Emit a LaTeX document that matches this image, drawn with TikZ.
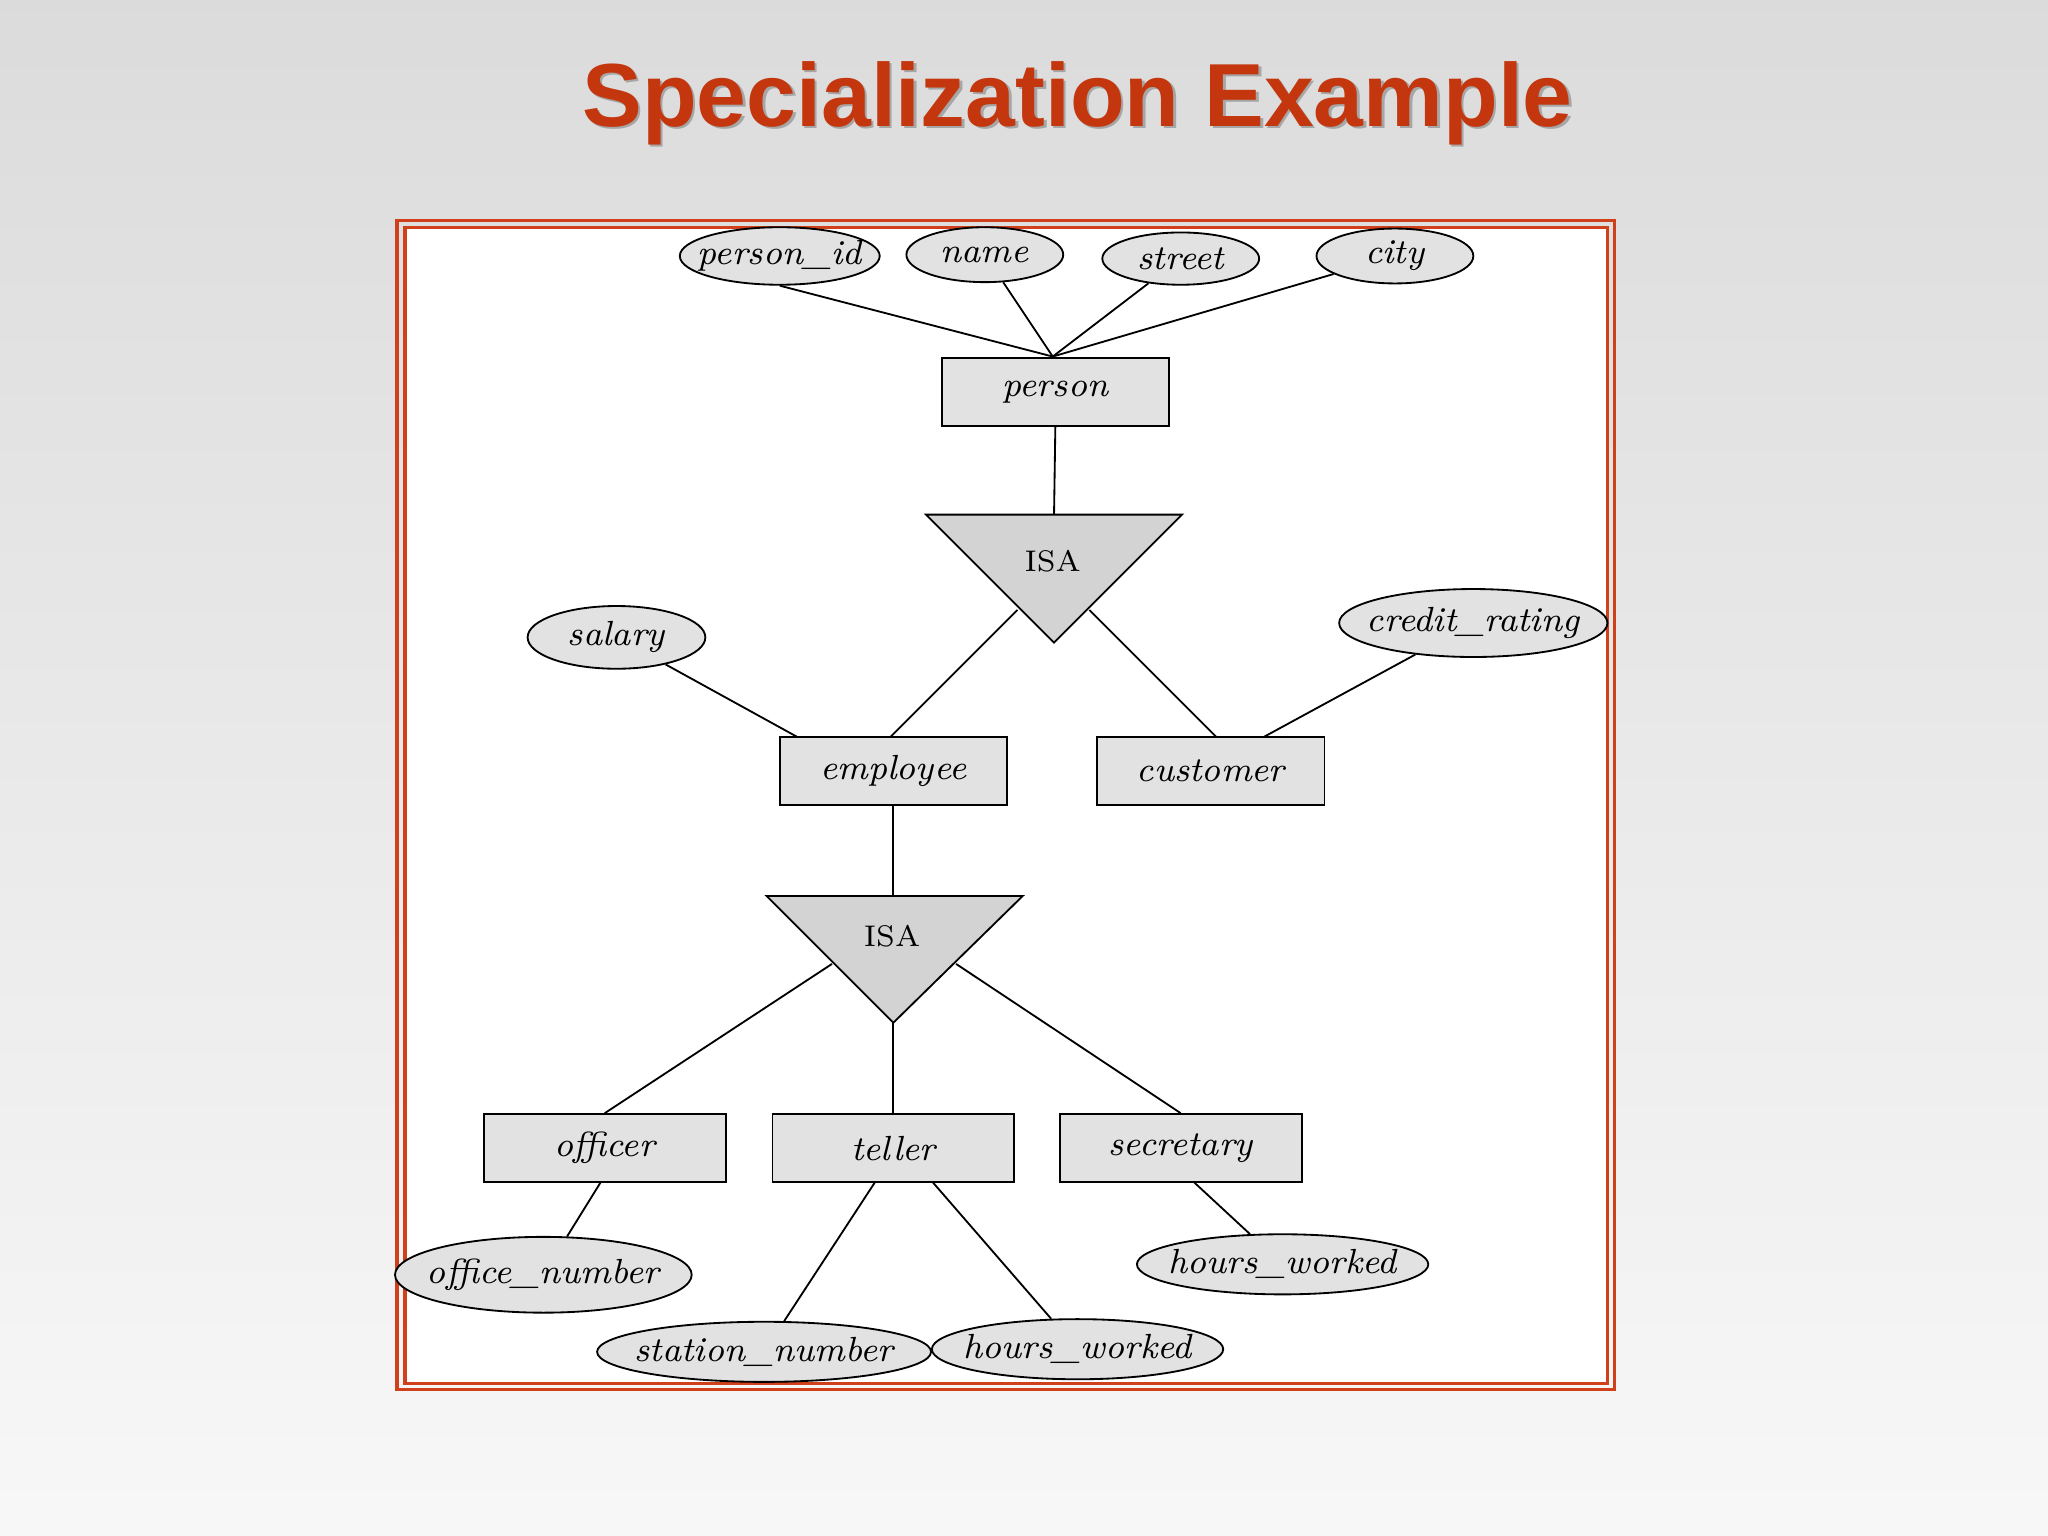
\documentclass[tikz,border=0pt]{standalone}
\usepackage{fontspec}
\usetikzlibrary{shapes.geometric}
\newfontfamily\titlefont{Liberation Sans}
\definecolor{ttl}{HTML}{C4370E}
\definecolor{frm}{HTML}{D0401A}
\definecolor{boxg}{HTML}{E2E2E2}
\begin{document}
\begin{tikzpicture}[x=0.01cm,y=-0.01cm,
 ent/.style={draw,fill=boxg,minimum width=1.74cm,minimum height=0.52cm,inner sep=0,font=\fontsize{7.6}{9}\selectfont\itshape},
 attr/.style={draw,fill=boxg,ellipse,inner ysep=0,inner xsep=-2.5pt,font=\fontsize{7.6}{9}\selectfont\itshape},
 isa/.style={draw,fill=boxg!85!gray},
 ln/.style={line width=0.4pt}]
\shade[top color=black!14,bottom color=black!3] (0,0) rectangle (1568,1176);
\useasboundingbox (0,0) rectangle (1568,1176);
\node[text=black!35,font=\titlefont\bfseries\fontsize{19.5}{24}\selectfont] at (827,81) {Specialization Example};
\node[text=ttl,font=\titlefont\bfseries\fontsize{19.5}{24}\selectfont] (title) at (825,79) {Specialization Example};
\draw[frm,line width=0.7pt] (304,169) rectangle (1236,1064);
\draw[frm,line width=0.7pt,fill=white] (310,174) rectangle (1231,1059);
% entities
\node[ent] (person) at (808,300) {person};
\node[ent] (employee) at (684,590) {employee};
\node[ent] (customer) at (927,590) {customer};
\node[ent,minimum width=1.85cm] (officer) at (463,879) {officer};
\node[ent,minimum width=1.85cm] (teller) at (684,879) {teller};
\node[ent,minimum width=1.85cm] (secretary) at (904,879) {secretary};
% attributes
\node[attr,minimum width=1.48cm,minimum height=0.44cm] (pid) at (597,196) {person\_id};
\node[attr,minimum width=1.2cm,minimum height=0.42cm] (name) at (754,195) {name};
\node[attr,minimum width=1.2cm,minimum height=0.40cm] (street) at (904,198) {street};
\node[attr,minimum width=1.2cm,minimum height=0.42cm] (city) at (1068,196) {city};
\node[attr,minimum width=1.36cm,minimum height=0.48cm] (salary) at (472,488) {salary};
\node[attr,minimum width=2.02cm,minimum height=0.52cm] (credit) at (1128,477) {credit\_rating};
\node[attr,minimum width=2.08cm,minimum height=0.58cm] (office) at (416,976) {office\_number};
\node[attr,minimum width=2.14cm,minimum height=0.46cm] (station) at (585,1035) {station\_number};
\node[attr,minimum width=2.14cm,minimum height=0.46cm] (hwt) at (825,1033) {hours\_worked};
\node[attr,minimum width=2.14cm,minimum height=0.46cm] (hws) at (982,968) {hours\_worked};
% ISA triangles
\draw[isa] (709,394) coordinate (a1) -- (905,394) coordinate (b1) -- (807,492) coordinate (c1) -- cycle;
\node[font=\fontsize{6.5}{8}\selectfont] (isa1) at (806,430) {ISA};
\draw[isa] (587,686) coordinate (a2) -- (783,686) coordinate (b2) -- (684,783) coordinate (c2) -- cycle;
\node[font=\fontsize{6.5}{8}\selectfont] (isa2) at (683,717) {ISA};
\coordinate (pt) at (806,273);
\coordinate (t1l) at (779,467); \coordinate (t1r) at (834,467); \coordinate (t1t) at (807,394);
\coordinate (t2l) at (637,738); \coordinate (t2r) at (732,738); \coordinate (t2t) at (684,686);
% connectors
\draw[ln] (pid.south) -- (pt);
\draw[ln] (name) -- (pt);
\draw[ln] (street) -- (pt);
\draw[ln] (city) -- (pt);
\draw[ln] (person.south) -- (t1t);
\draw[ln] (t1l) -- (682,564) coordinate (e1);
\draw[ln] (t1r) -- (931,564) coordinate (c1b);
\draw[ln] (salary) -- (610,564) coordinate (e2);
\draw[ln] (credit) -- (968,564) coordinate (c2b);
\draw[ln] (employee.south) -- (t2t);
\draw[ln] (t2l) -- (officer.north);
\draw[ln] (c2) -- (teller.north);
\draw[ln] (t2r) -- (secretary.north);
\draw[ln] (460,905) coordinate (o1) -- (office);
\draw[ln] (670,905) coordinate (tl1) -- (station);
\draw[ln] (714,905) coordinate (tl2) -- (hwt);
\draw[ln] (914,905) coordinate (s1) -- (hws);
\end{tikzpicture}
\end{document}
